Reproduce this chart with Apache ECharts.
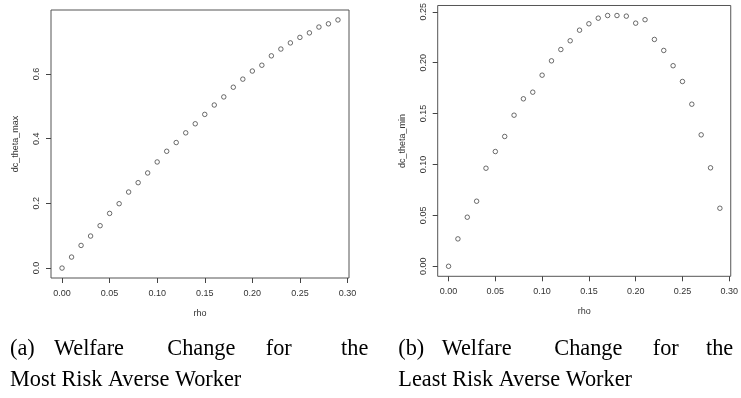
<!DOCTYPE html>
<html>
<head>
<meta charset="utf-8">
<script src="https://cdn.jsdelivr.net/npm/echarts@6/dist/echarts.min.js"></script>
<style>
  html, body { margin: 0; padding: 0; background: #fff; }
  #chart { width: 741px; height: 398px; }
</style>
</head>
<body>
<div id="chart"></div>
<script>
// Risk parameter grid
const rho = [0.00, 0.01, 0.02, 0.03, 0.04, 0.05, 0.06, 0.07, 0.08, 0.09,
             0.10, 0.11, 0.12, 0.13, 0.14, 0.15, 0.16, 0.17, 0.18, 0.19,
             0.20, 0.21, 0.22, 0.23, 0.24, 0.25, 0.26, 0.27, 0.28, 0.29];

// Welfare change, most risk averse worker
const dcThetaMax = [0.000, 0.034, 0.070, 0.099, 0.131, 0.169, 0.199, 0.235, 0.264, 0.294,
                    0.328, 0.361, 0.388, 0.418, 0.446, 0.475, 0.504, 0.529, 0.559, 0.584,
                    0.609, 0.627, 0.656, 0.677, 0.696, 0.713, 0.727, 0.745, 0.755, 0.767];

// Welfare change, least risk averse worker
const dcThetaMin = [0.0000, 0.0269, 0.0482, 0.0639, 0.0963, 0.1127, 0.1275, 0.1484, 0.1645, 0.1710,
                    0.1877, 0.2018, 0.2129, 0.2215, 0.2319, 0.2382, 0.2437, 0.2463, 0.2463, 0.2457,
                    0.2388, 0.2422, 0.2228, 0.2120, 0.1970, 0.1815, 0.1592, 0.1291, 0.0967, 0.0570];

// Tick positions
const xTicks = [0, 0.05, 0.10, 0.15, 0.20, 0.25, 0.30];
const yTicksMax = [0, 0.2, 0.4, 0.6];
const yTicksMin = [0, 0.05, 0.10, 0.15, 0.20, 0.25];

// Caption words (first line is justified, so words are placed one by one)
const captionA1 = ['(a)', 'Welfare', 'Change', 'for', 'the'];
const captionA2 = 'Most Risk Averse Worker';
const captionB1 = ['(b)', 'Welfare', 'Change', 'for', 'the'];
const captionB2 = 'Least Risk Averse Worker';

// Data range widened by 4% on each side, like a base R plot
function paddedRange(arr) {
  const lo = Math.min(...arr), hi = Math.max(...arr);
  const d = (hi - lo) * 0.04;
  return [lo - d, hi + d];
}

const AXIS_FONT = 'Liberation Sans';
const INK = '#333';
const FRAME = '#555';

function xAxisFor(gridIndex, range) {
  return {
    gridIndex, type: 'value', min: range[0], max: range[1], position: 'bottom',
    name: 'rho', nameLocation: 'middle', nameGap: 31,
    nameTextStyle: { fontFamily: AXIS_FONT, fontSize: 9, color: INK },
    axisLine: { show: false, onZero: false },
    splitLine: { show: false },
    axisTick: { show: true, length: 5, customValues: xTicks, lineStyle: { color: '#444', width: 1 } },
    axisLabel: { customValues: xTicks, formatter: v => v.toFixed(2), margin: 11,
                 fontFamily: AXIS_FONT, fontSize: 9, color: INK }
  };
}

function yAxisFor(gridIndex, range, ticks, digits, name) {
  return {
    gridIndex, type: 'value', min: range[0], max: range[1], position: 'left',
    name, nameLocation: 'middle', nameGap: 31, nameRotate: 90,
    nameTextStyle: { fontFamily: AXIS_FONT, fontSize: 9, color: INK },
    axisLine: { show: false, onZero: false },
    splitLine: { show: false },
    axisTick: { show: true, length: 5, customValues: ticks, lineStyle: { color: '#444', width: 1 } },
    axisLabel: { customValues: ticks, formatter: v => v.toFixed(digits), rotate: 90, margin: 10,
                 fontFamily: AXIS_FONT, fontSize: 9, color: INK }
  };
}

function pointSeries(idx, ys) {
  return {
    type: 'scatter', xAxisIndex: idx, yAxisIndex: idx,
    symbol: 'circle', symbolSize: 4.5,
    itemStyle: { color: 'rgba(0,0,0,0)', borderColor: '#333', borderWidth: 0.9 },
    emphasis: { disabled: true },
    data: rho.map((r, i) => [r, ys[i]])
  };
}

function captionText(text, x, y, align) {
  return {
    type: 'text', x, y, silent: true,
    style: { text, fontFamily: 'Liberation Serif', fontSize: 22.3, fill: '#000',
             align: align || 'left', verticalAlign: 'middle' }
  };
}

const xRange = paddedRange(rho);

const chart = echarts.init(document.getElementById('chart'), null, { renderer: 'canvas' });
chart.setOption({
  animation: false,
  backgroundColor: '#fff',
  grid: [
    { left: 51, top: 10, width: 298, height: 268, show: true, borderColor: FRAME, borderWidth: 1, backgroundColor: 'transparent' },
    { left: 437.7, top: 4.7, width: 301.8, height: 271.6, show: true, borderColor: FRAME, borderWidth: 1, backgroundColor: 'transparent' }
  ],
  xAxis: [xAxisFor(0, xRange), xAxisFor(1, xRange)],
  yAxis: [
    yAxisFor(0, paddedRange(dcThetaMax), yTicksMax, 1, 'dc_theta_max'),
    yAxisFor(1, paddedRange(dcThetaMin), yTicksMin, 2, 'dc_theta_min')
  ],
  series: [pointSeries(0, dcThetaMax), pointSeries(1, dcThetaMin)],
  graphic: [
    captionText(captionA1[0], 10, 349),
    captionText(captionA1[1], 54, 349),
    captionText(captionA1[2], 167.3, 349),
    captionText(captionA1[3], 265.7, 349),
    captionText(captionA1[4], 368.3, 349, 'right'),
    captionText(captionA2, 10, 380),
    captionText(captionB1[0], 398.3, 349),
    captionText(captionB1[1], 441.7, 349),
    captionText(captionB1[2], 554.3, 349),
    captionText(captionB1[3], 652.7, 349),
    captionText(captionB1[4], 706, 349),
    captionText(captionB2, 398.3, 380)
  ]
});
</script>
</body>
</html>
